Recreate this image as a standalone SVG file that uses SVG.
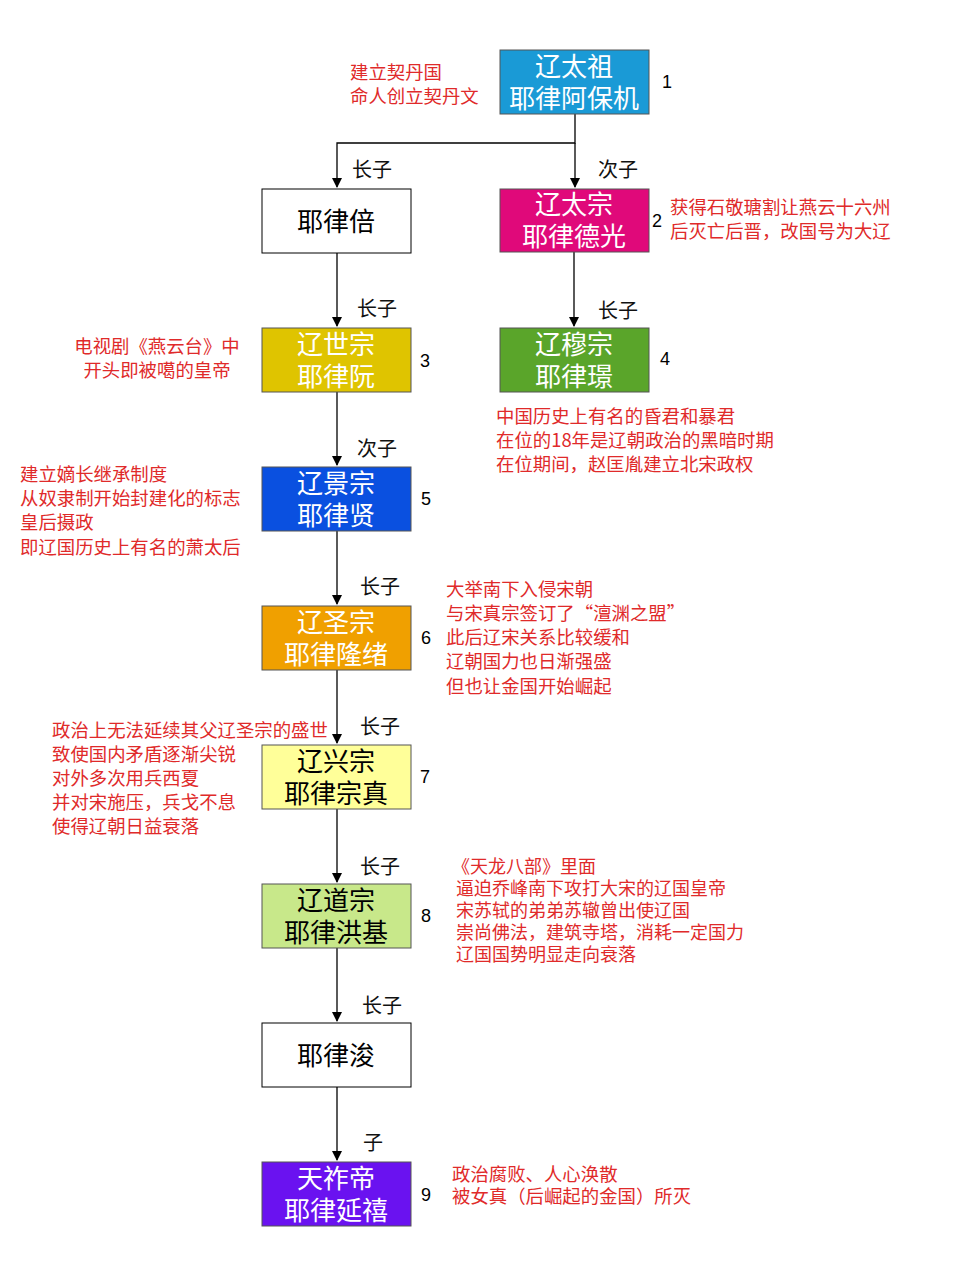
<svg xmlns="http://www.w3.org/2000/svg" width="960" height="1280" viewBox="0 0 960 1280">
<defs>
<marker id="arr" markerWidth="10" markerHeight="10" refX="9" refY="5" orient="auto" markerUnits="userSpaceOnUse">
<path d="M0,0 L10,5 L0,10 Z" fill="#000"/>
</marker>
<style>
.box{stroke:#555;stroke-width:1}
.nt{font-family:"Noto Sans CJK SC","Noto Sans",sans-serif;font-size:26px;text-anchor:middle;fill:#fff}
.nb{fill:#000}
.lbl{font-family:"Noto Sans CJK SC",sans-serif;font-size:20px;fill:#111}
.num{font-family:"Liberation Sans",Arial,sans-serif;font-size:18px;fill:#000}
.ann{font-family:"Noto Sans CJK SC",sans-serif;font-size:18.4px;fill:#e02a2a}
.ann8{font-family:"Noto Sans CJK SC",sans-serif;font-size:18px;fill:#e02a2a}
.ln{stroke:#000;stroke-width:1.3;fill:none}
</style>
</defs>
<rect width="960" height="1280" fill="#fff"/>

<g id="connectors">
<path class="ln" d="M575,114 V143 H337 V187" marker-end="url(#arr)"/>
<path class="ln" d="M575,143 V187" marker-end="url(#arr)"/>
<path class="ln" d="M337,253 V326" marker-end="url(#arr)"/>
<path class="ln" d="M574,252 V326" marker-end="url(#arr)"/>
<path class="ln" d="M337,392 V465" marker-end="url(#arr)"/>
<path class="ln" d="M337,531 V604" marker-end="url(#arr)"/>
<path class="ln" d="M337,670 V743" marker-end="url(#arr)"/>
<path class="ln" d="M337,809 V882" marker-end="url(#arr)"/>
<path class="ln" d="M337,948 V1021" marker-end="url(#arr)"/>
<path class="ln" d="M337,1087 V1160" marker-end="url(#arr)"/>
<text class="lbl" x="352" y="177">长子</text>
<text class="lbl" x="598" y="177">次子</text>
<text class="lbl" x="357" y="316">长子</text>
<text class="lbl" x="598" y="318">长子</text>
<text class="lbl" x="357" y="456">次子</text>
<text class="lbl" x="360" y="594">长子</text>
<text class="lbl" x="360" y="734">长子</text>
<text class="lbl" x="360" y="874">长子</text>
<text class="lbl" x="362" y="1013">长子</text>
<text class="lbl" x="363" y="1150">子</text>
</g>

<g id="n1">
<rect class="box" x="500" y="50" width="149" height="64" fill="#1a9ad6"/>
<text class="nt" x="574" y="76">辽太祖</text>
<text class="nt" x="574" y="108">耶律阿保机</text>
<text class="num" x="662" y="88">1</text>
<text class="ann" x="350" y="79">建立契丹国</text>
<text class="ann" x="350" y="103">命人创立契丹文</text>
</g>

<g id="nbei">
<rect x="262" y="189" width="149" height="64" fill="#fff" stroke="#000" stroke-width="1"/>
<text class="nt nb" x="336" y="231">耶律倍</text>
</g>

<g id="n2">
<rect class="box" x="500" y="189" width="149" height="63" fill="#e0097a"/>
<text class="nt" x="574" y="214">辽太宗</text>
<text class="nt" x="574" y="246">耶律德光</text>
<text class="num" x="652" y="227">2</text>
<text class="ann" x="670" y="214">获得石敬瑭割让燕云十六州</text>
<text class="ann" x="670" y="238">后灭亡后晋，改国号为大辽</text>
</g>

<g id="n3">
<rect class="box" x="262" y="328" width="149" height="64" fill="#dfc400"/>
<text class="nt" x="336" y="354">辽世宗</text>
<text class="nt" x="336" y="386">耶律阮</text>
<text class="num" x="420" y="367">3</text>
<text class="ann" x="157" y="353" text-anchor="middle">电视剧《燕云台》中</text>
<text class="ann" x="157" y="377" text-anchor="middle">开头即被噶的皇帝</text>
</g>

<g id="n4">
<rect class="box" x="500" y="328" width="149" height="64" fill="#5aa52a"/>
<text class="nt" x="574" y="354">辽穆宗</text>
<text class="nt" x="574" y="386">耶律璟</text>
<text class="num" x="660" y="365">4</text>
<text class="ann" x="496" y="423">中国历史上有名的昏君和暴君</text>
<text class="ann" x="496" y="447">在位的18年是辽朝政治的黑暗时期</text>
<text class="ann" x="496" y="471">在位期间，赵匡胤建立北宋政权</text>
</g>

<g id="n5">
<rect class="box" x="262" y="467" width="149" height="64" fill="#0a50e0"/>
<text class="nt" x="336" y="493">辽景宗</text>
<text class="nt" x="336" y="525">耶律贤</text>
<text class="num" x="421" y="505">5</text>
<text class="ann" x="20" y="481">建立嫡长继承制度</text>
<text class="ann" x="20" y="505">从奴隶制开始封建化的标志</text>
<text class="ann" x="20" y="529">皇后摄政</text>
<text class="ann" x="20" y="554">即辽国历史上有名的萧太后</text>
</g>

<g id="n6">
<rect class="box" x="262" y="606" width="149" height="64" fill="#f0a000"/>
<text class="nt" x="336" y="632">辽圣宗</text>
<text class="nt" x="336" y="664">耶律隆绪</text>
<text class="num" x="421" y="644">6</text>
<text class="ann" x="446" y="596">大举南下入侵宋朝</text>
<text class="ann" x="446" y="620">与宋真宗签订了“澶渊之盟”</text>
<text class="ann" x="446" y="644">此后辽宋关系比较缓和</text>
<text class="ann" x="446" y="668">辽朝国力也日渐强盛</text>
<text class="ann" x="446" y="693">但也让金国开始崛起</text>
</g>

<g id="n7">
<rect class="box" x="262" y="745" width="149" height="64" fill="#ffff99"/>
<text class="nt nb" x="336" y="771">辽兴宗</text>
<text class="nt nb" x="336" y="803">耶律宗真</text>
<text class="num" x="420" y="783">7</text>
<text class="ann" x="52" y="737">政治上无法延续其父辽圣宗的盛世</text>
<text class="ann" x="52" y="761">致使国内矛盾逐渐尖锐</text>
<text class="ann" x="52" y="785">对外多次用兵西夏</text>
<text class="ann" x="52" y="809">并对宋施压，兵戈不息</text>
<text class="ann" x="52" y="833">使得辽朝日益衰落</text>
</g>

<g id="n8">
<rect class="box" x="262" y="884" width="149" height="64" fill="#c8e88a"/>
<text class="nt nb" x="336" y="910">辽道宗</text>
<text class="nt nb" x="336" y="942">耶律洪基</text>
<text class="num" x="421" y="922">8</text>
<text class="ann8" x="452" y="873">《天龙八部》里面</text>
<text class="ann8" x="456" y="895">逼迫乔峰南下攻打大宋的辽国皇帝</text>
<text class="ann8" x="456" y="917">宋苏轼的弟弟苏辙曾出使辽国</text>
<text class="ann8" x="456" y="939">崇尚佛法，建筑寺塔，消耗一定国力</text>
<text class="ann8" x="456" y="961">辽国国势明显走向衰落</text>
</g>

<g id="njun">
<rect x="262" y="1023" width="149" height="64" fill="#fff" stroke="#000" stroke-width="1"/>
<text class="nt nb" x="336" y="1065">耶律浚</text>
</g>

<g id="n9">
<rect class="box" x="262" y="1162" width="149" height="64" fill="#6a12f0"/>
<text class="nt" x="336" y="1188">天祚帝</text>
<text class="nt" x="336" y="1220">耶律延禧</text>
<text class="num" x="421" y="1201">9</text>
<text class="ann" x="452" y="1181">政治腐败、人心涣散</text>
<text class="ann" x="452" y="1203">被女真（后崛起的金国）所灭</text>
</g>
</svg>
